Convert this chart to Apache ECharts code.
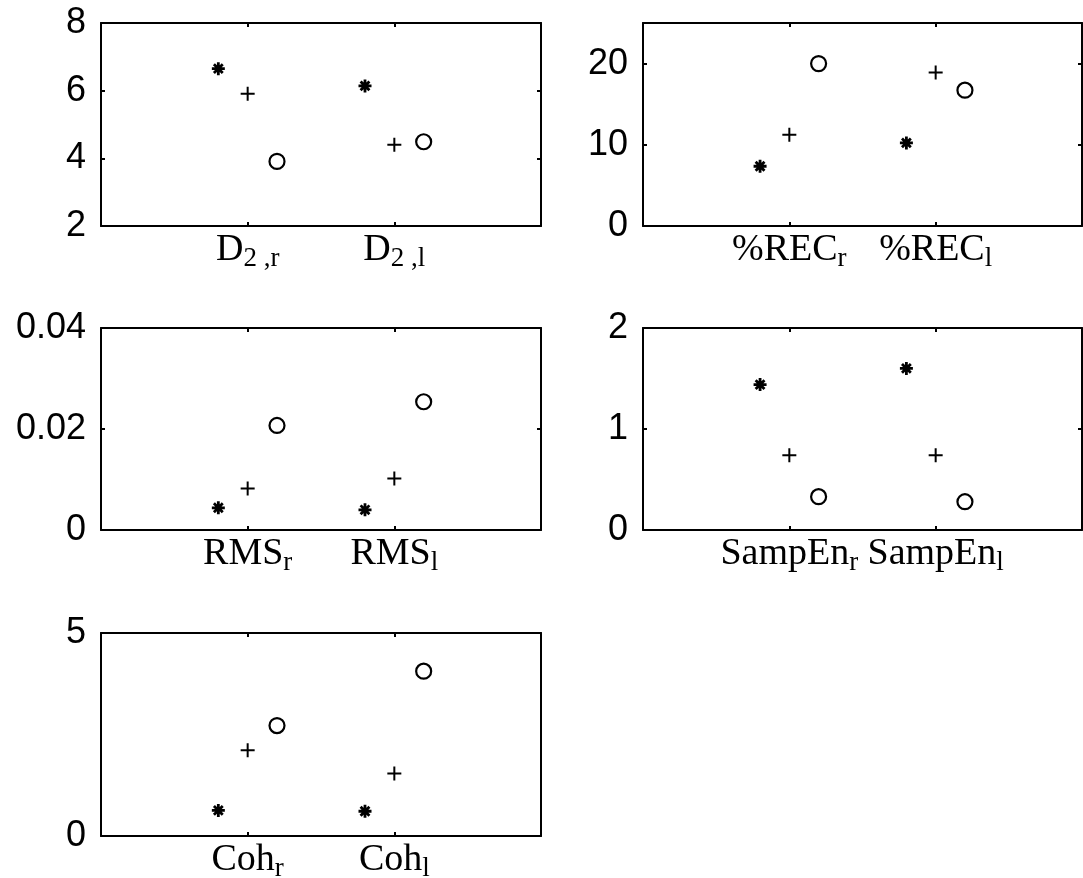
<!DOCTYPE html>
<html>
<head>
<meta charset="utf-8">
<script src="https://cdn.jsdelivr.net/npm/echarts@6/dist/echarts.min.js"></script>
<style>
  html, body { margin: 0; padding: 0; background: #fff; }
  #chart { width: 1083px; height: 878px; }
</style>
</head>
<body>
<div id="chart"></div>
<script>
// category labels: main text and subscript split on '_'
const d2Categories = ['D_2 ,r', 'D_2 ,l'];
const recCategories = ['%REC_r', '%REC_l'];
const rmsCategories = ['RMS_r', 'RMS_l'];
const sampEnCategories = ['SampEn_r', 'SampEn_l'];
const cohCategories = ['Coh_r', 'Coh_l'];

// marker series: star (*), plus (+), circle (o)
const d2Star = [6.65, 6.14];
const d2Plus = [5.91, 4.40];
const d2Circle = [3.91, 4.49];

const recStar = [7.36, 10.23];
const recPlus = [11.25, 18.9];
const recCircle = [20.0, 16.73];

const rmsStar = [0.0044, 0.0040];
const rmsPlus = [0.0082, 0.0102];
const rmsCircle = [0.0207, 0.0254];

const sampEnStar = [1.44, 1.60];
const sampEnPlus = [0.74, 0.74];
const sampEnCircle = [0.33, 0.28];

const cohStar = [0.63, 0.61];
const cohPlus = [2.11, 1.54];
const cohCircle = [2.72, 4.06];

// y tick setup per panel
const d2Ticks = { min: 2, max: 8, interval: 2 };
const recTicks = { min: 0, max: 25, interval: 10 };
const rmsTicks = { min: 0, max: 0.04, interval: 0.02 };
const sampEnTicks = { min: 0, max: 2, interval: 1 };
const cohTicks = { min: 0, max: 5, interval: 5 };

// horizontal offsets of the three markers around each category tick
const markerOffsets = [-0.2, 0, 0.2];

const panels = [
  { cats: d2Categories, series: [d2Star, d2Plus, d2Circle], y: d2Ticks, grid: { left: 101, top: 23, width: 440, height: 203 } },
  { cats: recCategories, series: [recStar, recPlus, recCircle], y: recTicks, grid: { left: 643, top: 23, width: 439, height: 203 } },
  { cats: rmsCategories, series: [rmsStar, rmsPlus, rmsCircle], y: rmsTicks, grid: { left: 101, top: 328, width: 440, height: 202 } },
  { cats: sampEnCategories, series: [sampEnStar, sampEnPlus, sampEnCircle], y: sampEnTicks, grid: { left: 643, top: 328, width: 439, height: 202 } },
  { cats: cohCategories, series: [cohStar, cohPlus, cohCircle], y: cohTicks, grid: { left: 101, top: 633, width: 440, height: 203 } },
];

const starPath = 'path://M0,5L10,5M5,0L5,10M1.6,1.6L8.4,8.4M1.6,8.4L8.4,1.6';
const plusPath = 'path://M0,5L10,5M5,0L5,10';

const markerStyles = [
  { symbol: starPath, symbolSize: 13, itemStyle: { color: 'transparent', borderColor: '#000', borderWidth: 2.8, opacity: 1 } },
  { symbol: plusPath, symbolSize: 14, itemStyle: { color: 'transparent', borderColor: '#000', borderWidth: 2, opacity: 1 } },
  { symbol: 'circle', symbolSize: 15, itemStyle: { color: 'transparent', borderColor: '#000', borderWidth: 2.2, opacity: 1 } },
];

const lineStyle = { color: '#000', width: 2 };
const axisLine = { show: true, onZero: false, lineStyle };
const tickStyle = { show: true, inside: true, length: 4, lineStyle: { color: '#000', width: 2 } };

const grids = [];
const xAxes = [];
const yAxes = [];
const series = [];

panels.forEach((p, i) => {
  grids.push({ ...p.grid, outerBoundsMode: 'none', containLabel: false });
  const cats = p.cats;
  // bottom x axis with labels
  xAxes.push({
    gridIndex: i, type: 'value', position: 'bottom', min: 0, max: 3, interval: 1,
    axisLine, axisTick: tickStyle, splitLine: { show: false },
    axisLabel: {
      margin: 2,
      formatter: (v) => {
        const c = cats[v - 1];
        if (!c) return '';
        const [main, sub] = c.split('_');
        return `{m|${main}}{s|${sub}}`;
      },
      rich: {
        m: { fontFamily: 'Liberation Serif', fontSize: 38, color: '#000', lineHeight: 40 },
        s: { fontFamily: 'Liberation Serif', fontSize: 27, color: '#000', padding: [17, 0, 0, 0] },
      },
    },
  });
  // mirrored top x axis
  xAxes.push({
    gridIndex: i, type: 'value', position: 'top', min: 0, max: 3, interval: 1,
    axisLine, axisTick: tickStyle, axisLabel: { show: false }, splitLine: { show: false },
  });
  const yt = p.y;
  yAxes.push({
    gridIndex: i, type: 'value', position: 'left', min: yt.min, max: yt.max, interval: yt.interval,
    axisLine, axisTick: tickStyle, splitLine: { show: false },
    axisLabel: {
      margin: 15, fontFamily: 'Liberation Sans', fontSize: 36, color: '#000',
      formatter: (v) => (Math.abs(Math.round((v - yt.min) / yt.interval) * yt.interval + yt.min - v) < 1e-9 ? String(+v.toFixed(4)) : ''),
    },
  });
  // mirrored right y axis
  yAxes.push({
    gridIndex: i, type: 'value', position: 'right', min: yt.min, max: yt.max, interval: yt.interval,
    axisLine, axisTick: tickStyle, axisLabel: { show: false }, splitLine: { show: false },
  });
  p.series.forEach((vals, k) => {
    series.push({
      type: 'scatter',
      xAxisIndex: i * 2,
      yAxisIndex: i * 2,
      ...markerStyles[k],
      silent: true,
      data: vals.map((v, j) => [j + 1 + markerOffsets[k], v]),
    });
  });
});

const chart = echarts.init(document.getElementById('chart'));
chart.setOption({
  backgroundColor: '#fff',
  animation: false,
  grid: grids,
  xAxis: xAxes,
  yAxis: yAxes,
  series,
});

window.addEventListener('resize', () => chart.resize());
</script>
</body>
</html>
